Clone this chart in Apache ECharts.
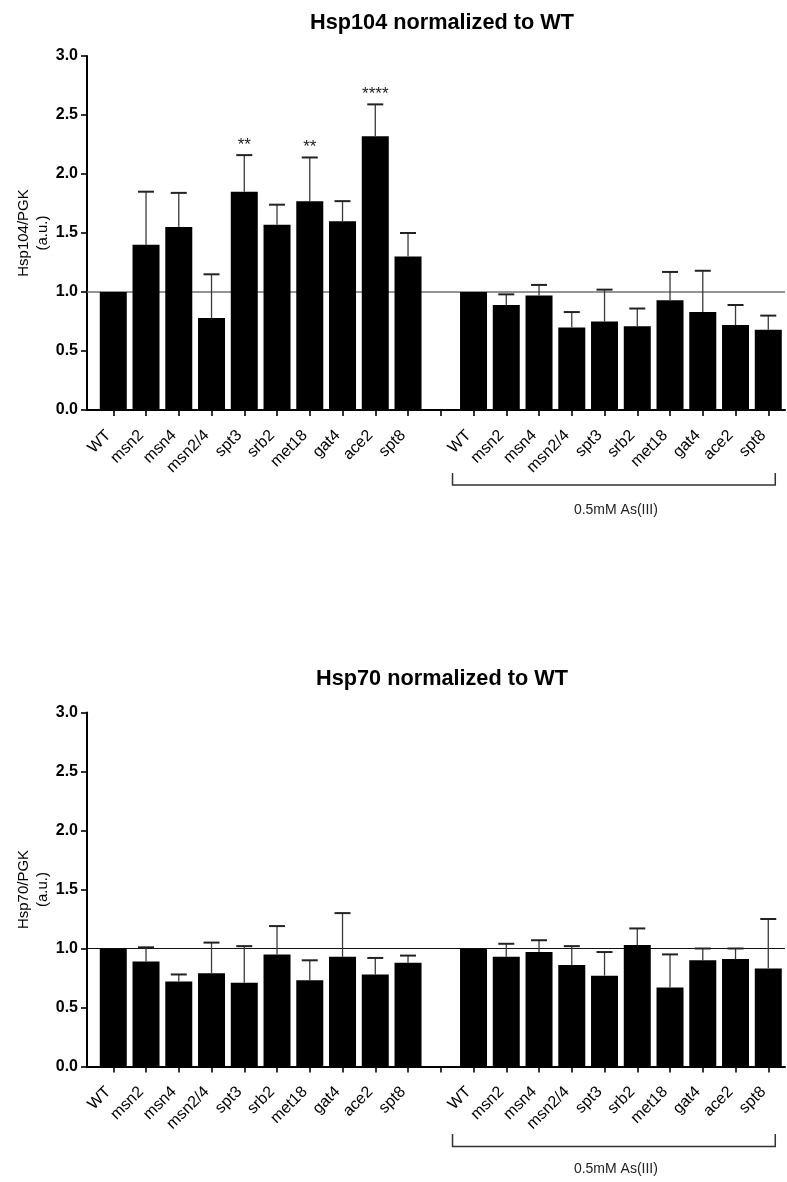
<!DOCTYPE html>
<html>
<head>
<meta charset="utf-8">
<script src="https://cdn.jsdelivr.net/npm/echarts@6/dist/echarts.min.js"></script>
<style>
html,body{margin:0;padding:0;background:#fff;}
#c{width:787px;height:1182px;}
</style>
</head>
<body>
<div id="c"></div>
<script>
// ---------- data ----------
const strains = ['WT','msn2','msn4','msn2/4','spt3','srb2','met18','gat4','ace2','spt8'];
const groupLabel = '0.5mM As(III)';
const yTicks = [0, 0.5, 1.0, 1.5, 2.0, 2.5, 3.0];

// Hsp104 (top panel)
const hsp104Ctrl     = [1.00, 1.40, 1.55, 0.78, 1.85, 1.57, 1.77, 1.60, 2.32, 1.30];
const hsp104CtrlErr  = [0.00, 0.45, 0.29, 0.37, 0.31, 0.17, 0.37, 0.17, 0.27, 0.20];
const hsp104As       = [1.00, 0.89, 0.97, 0.70, 0.75, 0.71, 0.93, 0.83, 0.72, 0.68];
const hsp104AsErr    = [0.00, 0.09, 0.09, 0.13, 0.27, 0.15, 0.24, 0.35, 0.17, 0.12];
const hsp104CtrlSig  = ['', '', '', '', '**', '', '**', '', '****', ''];
const hsp104AsSig    = ['', '', '', '', '', '', '', '', '', ''];

// Hsp70 (bottom panel)
const hsp70Ctrl      = [1.00, 0.89, 0.72, 0.79, 0.71, 0.95, 0.73, 0.93, 0.78, 0.88];
const hsp70CtrlErr   = [0.00, 0.12, 0.06, 0.26, 0.31, 0.24, 0.17, 0.37, 0.14, 0.06];
const hsp70As        = [1.00, 0.93, 0.97, 0.86, 0.77, 1.03, 0.67, 0.90, 0.91, 0.83];
const hsp70AsErr     = [0.00, 0.11, 0.10, 0.16, 0.20, 0.14, 0.28, 0.10, 0.09, 0.42];
const hsp70CtrlSig   = ['', '', '', '', '', '', '', '', '', ''];
const hsp70AsSig     = ['', '', '', '', '', '', '', '', '', ''];

const referenceLevel = 1.0;

// ---------- build ----------
const FONT = '"Liberation Sans", Arial, Helvetica, sans-serif';
const categories = strains.concat([''], strains);

function combine(a, b) { return a.concat([null], b); }

const panels = [
  {title: 'Hsp104 normalized to WT', yName: 'Hsp104/PGK\n(a.u.)',
   means: combine(hsp104Ctrl, hsp104As), errs: combine(hsp104CtrlErr, hsp104AsErr),
   sig: combine(hsp104CtrlSig, hsp104AsSig), top: 56, titleTop: 7, refColor: '#707070', refWidth: 1.6,
   brTop: 63, brBot: 75, brText: 100},
  {title: 'Hsp70 normalized to WT', yName: 'Hsp70/PGK\n(a.u.)',
   means: combine(hsp70Ctrl, hsp70As), errs: combine(hsp70CtrlErr, hsp70AsErr),
   sig: combine(hsp70CtrlSig, hsp70AsSig), top: 712.5, titleTop: 663, refColor: '#111', refWidth: 1.2,
   brTop: 67.5, brBot: 80, brText: 103}
];

const PLOT_H = 354;
const AX_LEFT = 87, AX_W = 698;
const BAR_LEFT = 96.9, BAR_W = 687.75;

const option = {
  animation: false,
  backgroundColor: '#fff',
  textStyle: {fontFamily: FONT},
  title: [], grid: [], xAxis: [], yAxis: [], series: []
};

panels.forEach((p, k) => {
  const gA = k * 2, gB = k * 2 + 1;
  option.title.push({
    text: p.title, left: 437, textAlign: 'center', top: p.titleTop,
    textStyle: {fontFamily: FONT, fontSize: 21.7, fontWeight: 'bold', color: '#000'}
  });
  option.grid.push({left: AX_LEFT, top: p.top, width: AX_W, height: PLOT_H});
  option.grid.push({left: BAR_LEFT, top: p.top, width: BAR_W, height: PLOT_H});

  // axis-frame grid: x line + y axis
  option.xAxis.push({
    type: 'value', gridIndex: gA, min: 0, max: 1,
    axisLine: {show: true, lineStyle: {color: '#000', width: 2}},
    axisTick: {show: false}, axisLabel: {show: false}, splitLine: {show: false}
  });
  option.yAxis.push({
    type: 'value', gridIndex: gA, min: 0, max: 3, interval: 0.5,
    name: p.yName, nameLocation: 'middle', nameRotate: 90, nameGap: 35, nameMoveOverlap: false,
    nameTextStyle: {fontFamily: FONT, fontSize: 15, lineHeight: 19, color: '#000', align: 'center'},
    axisLine: {show: true, lineStyle: {color: '#000', width: 2}},
    axisTick: {show: true, length: 6, lineStyle: {color: '#000', width: 1.6}},
    axisLabel: {fontFamily: FONT, fontSize: 16, fontWeight: 'bold', color: '#000', margin: 9,
                formatter: v => yTicks.indexOf(v) >= 0 ? v.toFixed(1) : ''},
    splitLine: {show: false}
  });

  // bar grid: categories
  option.xAxis.push({
    type: 'category', gridIndex: gB, data: categories,
    axisLine: {show: false},
    axisTick: {show: true, alignWithLabel: true, interval: 0, length: 6, lineStyle: {color: '#000', width: 1.6}},
    axisLabel: {interval: 0, rotate: 45, fontFamily: FONT, fontSize: 16, color: '#000', margin: 18,
                padding: [0, 7, 0, 0]}
  });
  option.yAxis.push({type: 'value', gridIndex: gB, min: 0, max: 3, show: false});

  // reference line at 1.0
  option.series.push({
    type: 'line', xAxisIndex: gA, yAxisIndex: gA, symbol: 'none', silent: true,
    data: [[0, referenceLevel], [1, referenceLevel]],
    lineStyle: {color: p.refColor, width: p.refWidth}, z: 1
  });
  // bars
  option.series.push({
    type: 'bar', xAxisIndex: gB, yAxisIndex: gB, data: p.means, barWidth: 27,
    itemStyle: {color: '#000'}, z: 2, silent: true
  });
  // error bars + significance
  const errData = p.means.map((m, i) => [i, m === null ? 0 : m, p.errs[i] || 0]);
  option.series.push({
    type: 'custom', xAxisIndex: gB, yAxisIndex: gB, z: 3, silent: true,
    data: errData,
    renderItem: (params, api) => {
      const i = params.dataIndex;
      const m = api.value(1), e = api.value(2);
      const children = [];
      if (p.means[i] === null) return {type: 'group', children};
      const p0 = api.coord([api.value(0), m]);
      const p1 = api.coord([api.value(0), m + e]);
      if (e > 0) {
        children.push({type: 'line', shape: {x1: p0[0], y1: p0[1], x2: p1[0], y2: p1[1]},
                       style: {stroke: '#3a3a3a', lineWidth: 1.3}});
        children.push({type: 'line', shape: {x1: p1[0] - 8, y1: p1[1], x2: p1[0] + 8, y2: p1[1]},
                       style: {stroke: '#222', lineWidth: 2}});
      }
      if (p.sig[i]) {
        children.push({type: 'text', x: p1[0], y: p1[1] - 10,
          style: {text: p.sig[i], fontFamily: FONT, fontSize: 17, fill: '#222',
                  align: 'center', verticalAlign: 'middle'}});
      }
      return {type: 'group', children};
    }
  });
});

const chart = echarts.init(document.getElementById('c'), null, {renderer: 'canvas'});
chart.setOption(option);

// group brackets under the treated strains
const graphics = [];
panels.forEach((p, k) => {
  const gB = k * 2 + 1;
  const first = chart.convertToPixel({gridIndex: gB}, [strains.length + 1, 0]);
  const last = chart.convertToPixel({gridIndex: gB}, [categories.length - 1, 0]);
  const x1 = first[0] - 21, x2 = last[0] + 7, y0 = first[1];
  graphics.push({type: 'polyline', silent: true,
    shape: {points: [[x1, y0 + p.brTop], [x1, y0 + p.brBot], [x2, y0 + p.brBot], [x2, y0 + p.brTop]]},
    style: {stroke: '#333', lineWidth: 1.5, fill: null}});
  graphics.push({type: 'text', silent: true, x: (x1 + x2) / 2 + 2, y: y0 + p.brText,
    style: {text: groupLabel, fontFamily: FONT, fontSize: 14, fill: '#222', align: 'center', verticalAlign: 'middle'}});
});
chart.setOption({graphic: graphics});
</script>
</body>
</html>
